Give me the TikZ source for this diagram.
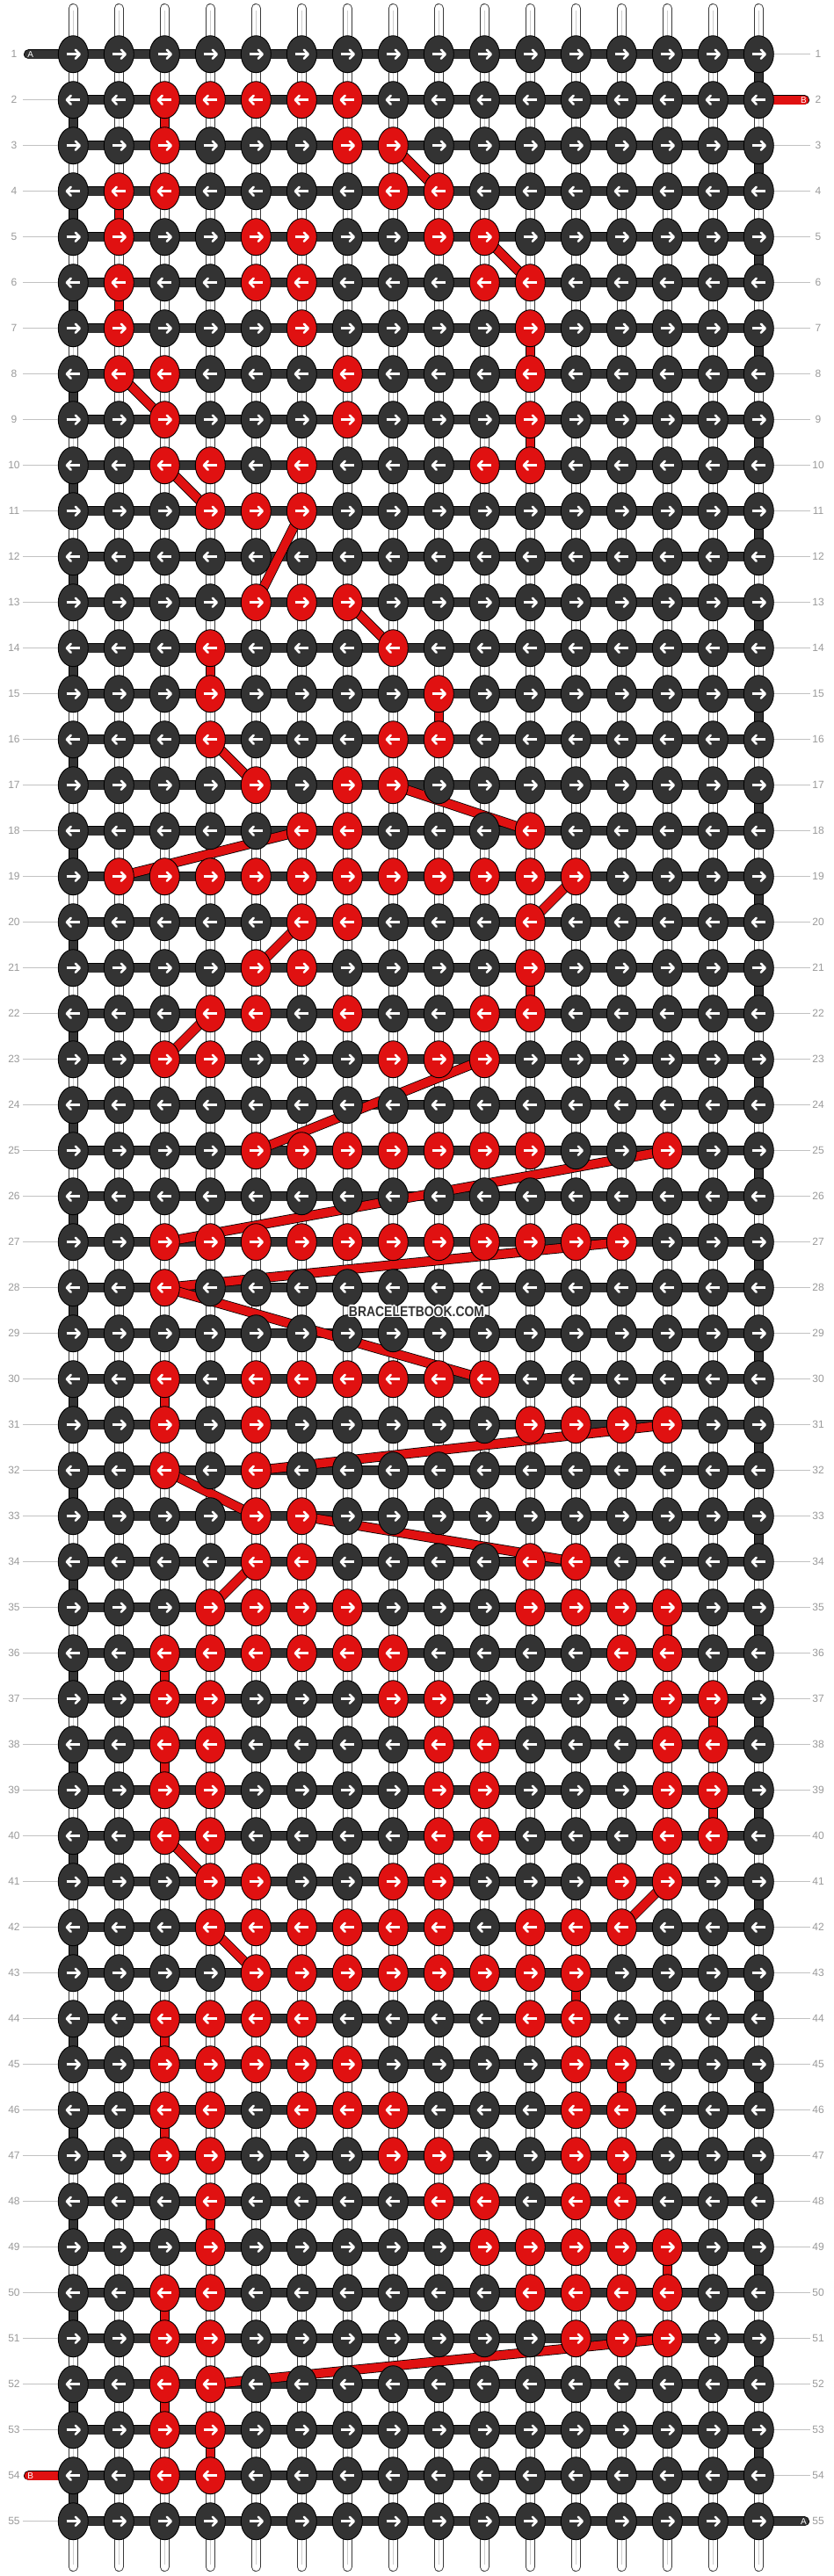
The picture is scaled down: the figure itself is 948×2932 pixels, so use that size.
\documentclass[tikz,border=0pt]{standalone}
\usepackage{fontspec}
\usepackage{graphicx}
\setmainfont{Liberation Sans}
\usetikzlibrary{shapes.geometric}
\definecolor{kdark}{HTML}{333333}
\definecolor{kred}{HTML}{E01111}
\definecolor{labgray}{HTML}{9A9A9A}
\definecolor{lingray}{HTML}{C2C2C2}
\definecolor{strout}{HTML}{3A3A3A}
\definecolor{strmid}{HTML}{CDCDCD}
\definecolor{wmdark}{HTML}{333333}
\pgfdeclarelayer{paperlayer}
\pgfdeclarelayer{strlayer}
\pgfdeclarelayer{barlayer}
\pgfsetlayers{paperlayer,strlayer,barlayer,main}
\newcommand\wmtext{\scalebox{0.855}[1]{BRACELETBOOK.COM}}
\tikzset{
  knot/.style={ellipse, draw=black, line width=0.9pt, minimum width=34pt, minimum height=42pt, inner sep=0pt},
  kar/.style={white, line width=2.6pt, line cap=butt, line join=round},
  karhead/.style={white, line width=2.6pt, line cap=round, line join=round},
  bar/.style={draw=black, line width=0.8pt, double=#1, double distance=9.6pt},
  strouter/.style={strout, line width=10.8pt, line cap=round},
  strinner/.style={white, line width=9pt, line cap=round},
  strcenter/.style={strmid, line width=0.8pt, shorten <=3pt, shorten >=3pt},
  lab/.style={font=\fontsize{12}{12}\selectfont, text=labgray, inner sep=0pt},
  labline/.style={lingray, line width=1pt},
  tabtxt/.style={font=\fontsize{10}{10}\selectfont, text=white, inner sep=0pt},
  wm/.style={font=\fontsize{16.3}{16}\selectfont\bfseries, inner sep=0pt}
}
\begin{document}
\begin{tikzpicture}[x=1pt,y=-1pt]
\begin{pgfonlayer}{paperlayer}
\fill[white] (0,0) rectangle (948,2932);
\end{pgfonlayer}
\useasboundingbox (0,0) rectangle (948,2932);
% red knots
\foreach \rr/\cl in {2/{3,4,5,6,7}, 3/{3,7,8}, 4/{2,3,8,9}, 5/{2,5,6,9,10}, 6/{2,5,6,10,11},
  7/{2,6,11}, 8/{2,3,7,11}, 9/{3,7,11}, 10/{3,4,6,10,11}, 11/{4,5,6}, 13/{5,6,7},
  14/{4,8}, 15/{4,9}, 16/{4,8,9}, 17/{5,7,8}, 18/{6,7,11}, 19/{2,3,4,5,6,7,8,9,10,11,12},
  20/{6,7,11}, 21/{5,6,11}, 22/{4,5,7,10,11}, 23/{3,4,8,9,10}, 25/{5,6,7,8,9,10,11,14},
  27/{3,4,5,6,7,8,9,10,11,12,13}, 28/{3}, 30/{3,5,6,7,8,9,10}, 31/{3,5,11,12,13,14},
  32/{3,5}, 33/{5,6}, 34/{5,6,11,12}, 35/{4,5,6,7,11,12,13,14}, 36/{3,4,5,6,7,8,13,14},
  37/{3,4,8,9,14,15}, 38/{3,4,9,10,14,15}, 39/{3,4,9,10,14,15}, 40/{3,4,9,10,14,15},
  41/{4,5,8,9,13,14}, 42/{4,5,6,7,8,9,11,12,13}, 43/{5,6,7,8,9,10,11,12},
  44/{3,4,5,6,11,12}, 45/{3,4,5,6,7,12,13}, 46/{3,4,6,7,8,12,13}, 47/{3,4,8,9,12,13},
  48/{4,9,10,12,13}, 49/{4,10,11,12,13,14}, 50/{3,4,11,12,13,14}, 51/{3,4,12,13,14},
  52/{3,4}, 53/{3,4}, 54/{3,4}}{%
  \foreach \cc in \cl {\expandafter\xdef\csname kr@\rr @\cc\endcsname{1}}}
% knots
\foreach \r in {1,...,55}{
  \pgfmathsetmacro\yy{61.7+52*(\r-1)}
  \ifodd\r \def\dir{1}\else\def\dir{-1}\fi
  \foreach \c in {1,...,16}{
    \pgfmathsetmacro\xx{83.3+52*(\c-1)}
    \ifcsname kr@\r @\c\endcsname\def\kc{kred}\else\def\kc{kdark}\fi
    \node[knot, fill=\kc] (k-\r-\c) at (\xx,\yy) {};
    \draw[kar, shift={(\xx,\yy)}, xscale=\dir] (-7.6,0) -- (6.8,0);
    \draw[karhead, shift={(\xx,\yy)}, xscale=\dir] (2.6,-5) -- (7.4,0) -- (2.6,5);
  }
}
% base strings
\begin{pgfonlayer}{strlayer}
\foreach \c in {1,...,16}{
  \pgfmathsetmacro\xx{83.3+52*(\c-1)}
  \coordinate (st-\c) at (\xx,9.4);
  \coordinate (sb-\c) at (\xx,2921.6);
  \draw[strouter] (st-\c) -- (sb-\c);
  \draw[strinner] (st-\c) -- (sb-\c);
  \draw[strcenter] (st-\c) -- (sb-\c);
}
\end{pgfonlayer}
% working strings
\begin{pgfonlayer}{barlayer}
\foreach \r in {2,4,...,54}{\pgfmathtruncatemacro\rn{\r+1}\draw[bar=kdark] (k-\r-1.center) -- (k-\rn-1.center);}
\foreach \r in {1,3,...,53}{\pgfmathtruncatemacro\rn{\r+1}\draw[bar=kdark] (k-\r-16.center) -- (k-\rn-16.center);}
\foreach \r/\c in {2/3, 4/2, 6/2, 7/11, 9/11, 14/4, 15/9, 21/11, 30/3, 35/14, 36/3, 37/15,
  38/3, 39/15, 43/12, 44/3, 45/13, 46/3, 47/13, 48/4, 49/14, 50/3, 52/3, 53/4}{%
  \pgfmathtruncatemacro\rn{\r+1}\draw[bar=kred] (k-\r-\c.center) -- (k-\rn-\c.center);}
\foreach \r in {1,...,55}{\draw[bar=kdark] (k-\r-1.center) -- (k-\r-16.center);}
\foreach \ra/\ca/\rb/\cb in {3/8/4/9, 5/10/6/11, 8/2/9/3, 10/3/11/4, 11/6/13/5, 13/7/14/8,
  16/4/17/5, 17/8/18/11, 18/6/19/2, 19/12/20/11, 20/6/21/5, 22/4/23/3, 23/10/25/5,
  25/14/27/3, 27/13/28/3, 28/3/30/10, 31/14/32/5, 32/3/33/5, 33/6/34/12, 34/5/35/4,
  40/3/41/4, 41/14/42/13, 42/4/43/5, 51/14/52/4}{%
  \draw[bar=kred] (k-\ra-\ca.center) -- (k-\rb-\cb.center);}
\coordinate (tA1) at (32.6,61.7);
\draw[bar=kdark, line cap=round] (tA1) -- (k-1-1.center);
\coordinate (tB2) at (915.4,113.7);
\draw[bar=kred, line cap=round] (k-2-16.center) -- (tB2);
\coordinate (tB54) at (32.6,2817.7);
\draw[bar=kred, line cap=round] (tB54) -- (k-54-1.center);
\coordinate (tA55) at (915.4,2869.7);
\draw[bar=kdark, line cap=round] (k-55-16.center) -- (tA55);
\end{pgfonlayer}
\node[tabtxt] (tl-1) at (34.7,61.7) {A};
\node[tabtxt] (tl-2) at (914.5,113.7) {B};
\node[tabtxt] (tl-54) at (34.7,2817.7) {B};
\node[tabtxt] (tl-55) at (914.5,2869.7) {A};
% row labels
\foreach \r in {1,...,55}{
  \pgfmathsetmacro\yy{61.7+52*(\r-1)}
  \node[lab] (ll-\r) at (16,\yy) {\r};
  \node[lab] (lr-\r) at (931,\yy) {\r};
  \ifnum\r=1 \else\ifnum\r=54 \else
    \coordinate (la-\r) at (26,\yy); \draw[labline] (la-\r) -- (k-\r-1.west);
  \fi\fi
  \ifnum\r=2 \else\ifnum\r=55 \else
    \coordinate (lb-\r) at (922,\yy); \draw[labline] (k-\r-16.east) -- (lb-\r);
  \fi\fi
}
% watermark
\foreach \i/\dx/\dy in {1/1.6/0, 2/-1.6/0, 3/0/1.6, 4/0/-1.6, 5/1.1/1.1, 6/-1.1/1.1, 7/1.1/-1.1, 8/-1.1/-1.1}{
  \node[wm, text=white, xshift=\dx pt, yshift=\dy pt] (wmh-\i) at (474,1492.5) {\wmtext};}
\node[wm, text=wmdark] (wm) at (474,1492.5) {\wmtext};
\end{tikzpicture}
\end{document}
